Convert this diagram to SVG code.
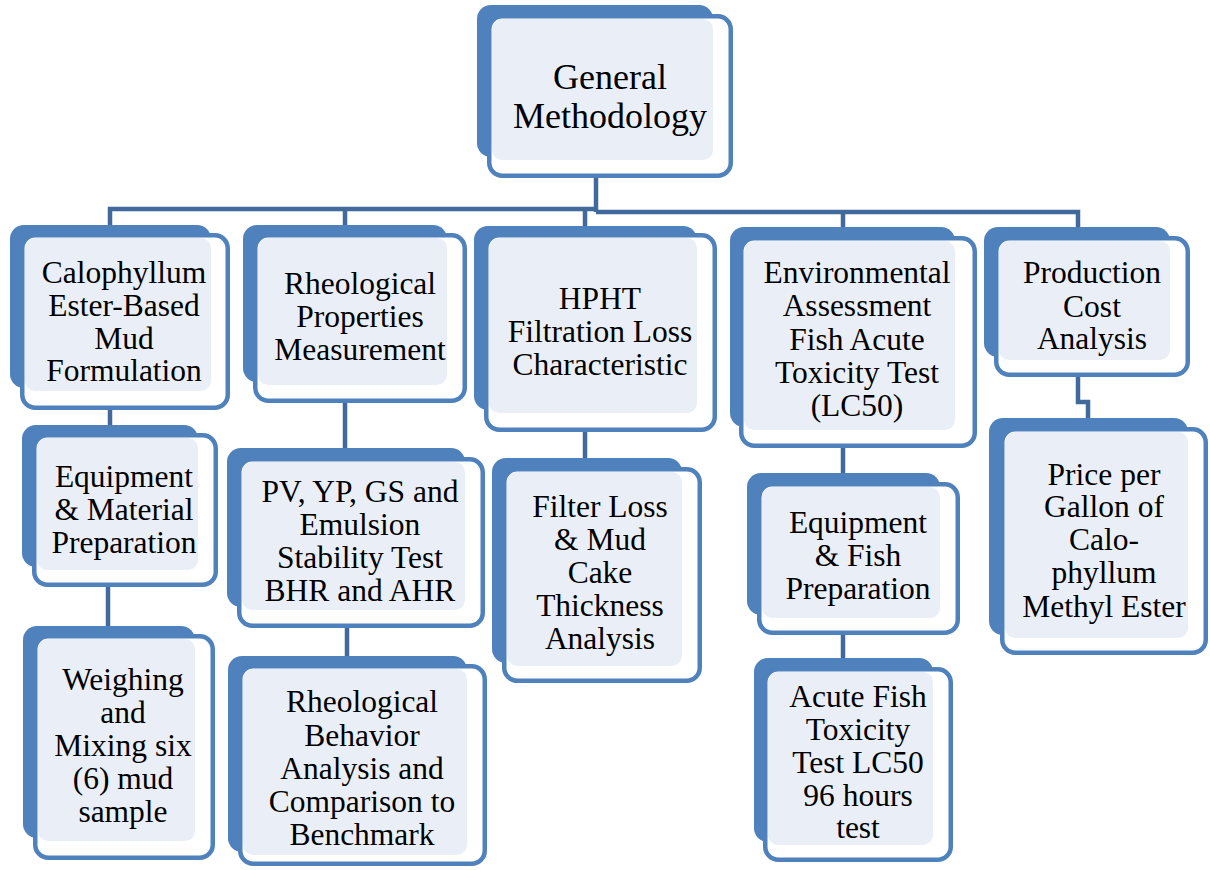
<svg xmlns="http://www.w3.org/2000/svg" width="1210" height="870" viewBox="0 0 1210 870">
<style>
.bk{fill:#4F81BD}
.fr{fill:#FFFFFF;stroke:#4F81BD;stroke-width:4.5}
.lt{fill:#EAEFF7}
.cn{fill:none;stroke:#41699C;stroke-width:4.5}
.tx{font-family:'Liberation Serif','Times New Roman','DejaVu Serif',serif;font-size:31.5px;text-anchor:middle;fill:#000}
.big{font-size:36px}
</style>
<rect width="1210" height="870" fill="#FFFFFF"/>
<g id="connectors">
<path class="cn" d="M596,176 V212"/>
<path class="cn" d="M110,226 V209 H596"/>
<path class="cn" d="M596,212 H1078 V228"/>
<path class="cn" d="M345,209 V226"/>
<path class="cn" d="M585,209 V227"/>
<path class="cn" d="M843,212 V228"/>
<path class="cn" d="M110,408 V426"/>
<path class="cn" d="M108,585 V627"/>
<path class="cn" d="M345,401 V449"/>
<path class="cn" d="M347,626 V657"/>
<path class="cn" d="M585,430 V459"/>
<path class="cn" d="M843,446 V474"/>
<path class="cn" d="M843,633 V659"/>
<path class="cn" d="M1078,375 V402 H1088 V419"/>
</g>
<g id="n0">
<rect class="bk" x="477" y="5" width="236" height="152" rx="14"/>
<rect class="fr" x="489.25" y="16.25" width="241.5" height="159.5" rx="13"/>
<rect class="lt" x="492" y="19" width="221" height="141" rx="10"/>
<g class="tx big" font-family="Liberation Serif, serif">
<text x="610" y="89">General</text>
<text x="610" y="128">Methodology</text>
</g>
</g>
<g id="n1">
<rect class="bk" x="10" y="225" width="201" height="163" rx="14"/>
<rect class="fr" x="22.25" y="235.25" width="205.5" height="172.5" rx="13"/>
<rect class="lt" x="25" y="238" width="186" height="153" rx="10"/>
<g class="tx" font-family="Liberation Serif, serif">
<text x="124" y="283">Calophyllum</text>
<text x="124" y="316">Ester-Based</text>
<text x="124" y="349">Mud</text>
<text x="124" y="381">Formulation</text>
</g>
</g>
<g id="n1a">
<rect class="bk" x="22" y="425" width="176" height="142" rx="14"/>
<rect class="fr" x="34.25" y="435.25" width="181.5" height="149.5" rx="13"/>
<rect class="lt" x="37" y="438" width="161" height="132" rx="10"/>
<g class="tx" font-family="Liberation Serif, serif">
<text x="124" y="487">Equipment</text>
<text x="124" y="520">&amp; Material</text>
<text x="124" y="553">Preparation</text>
</g>
</g>
<g id="n1b">
<rect class="bk" x="23" y="626" width="172" height="212" rx="14"/>
<rect class="fr" x="35.25" y="636.25" width="177.5" height="221.5" rx="13"/>
<rect class="lt" x="38" y="639" width="157" height="202" rx="10"/>
<g class="tx" font-family="Liberation Serif, serif">
<text x="123" y="690">Weighing</text>
<text x="123" y="723">and</text>
<text x="123" y="756">Mixing six</text>
<text x="123" y="789">(6) mud</text>
<text x="123" y="822">sample</text>
</g>
</g>
<g id="n2">
<rect class="bk" x="243" y="225" width="204" height="157" rx="14"/>
<rect class="fr" x="255.25" y="235.25" width="209.5" height="165.5" rx="13"/>
<rect class="lt" x="258" y="238" width="189" height="147" rx="10"/>
<g class="tx" font-family="Liberation Serif, serif">
<text x="360" y="294">Rheological</text>
<text x="360" y="327">Properties</text>
<text x="360" y="360">Measurement</text>
</g>
</g>
<g id="n2a">
<rect class="bk" x="227" y="448" width="238" height="159" rx="14"/>
<rect class="fr" x="239.25" y="459.25" width="243.5" height="166.5" rx="13"/>
<rect class="lt" x="242" y="462" width="223" height="148" rx="10"/>
<g class="tx" font-family="Liberation Serif, serif">
<text x="360" y="502">PV, YP, GS and</text>
<text x="360" y="535">Emulsion</text>
<text x="360" y="568">Stability Test</text>
<text x="360" y="601">BHR and AHR</text>
</g>
</g>
<g id="n2b">
<rect class="bk" x="228" y="656" width="239" height="196" rx="14"/>
<rect class="fr" x="240.25" y="666.25" width="244.5" height="197.5" rx="13"/>
<rect class="lt" x="243" y="669" width="224" height="186" rx="10"/>
<g class="tx" font-family="Liberation Serif, serif">
<text x="362" y="712">Rheological</text>
<text x="362" y="746">Behavior</text>
<text x="362" y="779">Analysis and</text>
<text x="362" y="812">Comparison to</text>
<text x="362" y="845">Benchmark</text>
</g>
</g>
<g id="n3">
<rect class="bk" x="474" y="226" width="223" height="184" rx="14"/>
<rect class="fr" x="486.25" y="235.25" width="228.5" height="194.5" rx="13"/>
<rect class="lt" x="489" y="238" width="208" height="175" rx="10"/>
<g class="tx" font-family="Liberation Serif, serif">
<text x="600" y="309">HPHT</text>
<text x="600" y="342">Filtration Loss</text>
<text x="600" y="375">Characteristic</text>
</g>
</g>
<g id="n3a">
<rect class="bk" x="492" y="458" width="190" height="205" rx="14"/>
<rect class="fr" x="504.25" y="469.25" width="195.5" height="211.5" rx="13"/>
<rect class="lt" x="507" y="472" width="175" height="194" rx="10"/>
<g class="tx" font-family="Liberation Serif, serif">
<text x="600" y="517">Filter Loss</text>
<text x="600" y="550">&amp; Mud</text>
<text x="600" y="583">Cake</text>
<text x="600" y="616">Thickness</text>
<text x="600" y="649">Analysis</text>
</g>
</g>
<g id="n4">
<rect class="bk" x="730" y="227" width="225" height="200" rx="14"/>
<rect class="fr" x="741.25" y="238.25" width="233.5" height="207.5" rx="13"/>
<rect class="lt" x="744" y="241" width="211" height="189" rx="10"/>
<g class="tx" font-family="Liberation Serif, serif">
<text x="857" y="283">Environmental</text>
<text x="857" y="316">Assessment</text>
<text x="857" y="350">Fish Acute</text>
<text x="857" y="383">Toxicity Test</text>
<text x="857" y="416">(LC50)</text>
</g>
</g>
<g id="n4a">
<rect class="bk" x="747" y="473" width="193" height="142" rx="14"/>
<rect class="fr" x="759.25" y="484.25" width="198.5" height="148.5" rx="13"/>
<rect class="lt" x="762" y="487" width="178" height="131" rx="10"/>
<g class="tx" font-family="Liberation Serif, serif">
<text x="858" y="533">Equipment</text>
<text x="858" y="566">&amp; Fish</text>
<text x="858" y="599">Preparation</text>
</g>
</g>
<g id="n4b">
<rect class="bk" x="754" y="658" width="179" height="184" rx="14"/>
<rect class="fr" x="765.25" y="669.25" width="185.5" height="190.5" rx="13"/>
<rect class="lt" x="768" y="672" width="165" height="173" rx="10"/>
<g class="tx" font-family="Liberation Serif, serif">
<text x="858" y="707">Acute Fish</text>
<text x="858" y="740">Toxicity</text>
<text x="858" y="773">Test LC50</text>
<text x="858" y="806">96 hours</text>
<text x="858" y="838">test</text>
</g>
</g>
<g id="n5">
<rect class="bk" x="984" y="227" width="186" height="130" rx="14"/>
<rect class="fr" x="996.25" y="238.25" width="191.5" height="136.5" rx="13"/>
<rect class="lt" x="999" y="241" width="171" height="119" rx="10"/>
<g class="tx" font-family="Liberation Serif, serif">
<text x="1092" y="283">Production</text>
<text x="1092" y="317">Cost</text>
<text x="1092" y="349">Analysis</text>
</g>
</g>
<g id="n5a">
<rect class="bk" x="989" y="418" width="199" height="217" rx="14"/>
<rect class="fr" x="1002.25" y="429.25" width="203.5" height="223.5" rx="13"/>
<rect class="lt" x="1005" y="432" width="183" height="206" rx="10"/>
<g class="tx" font-family="Liberation Serif, serif">
<text x="1104" y="485">Price per</text>
<text x="1104" y="517">Gallon of</text>
<text x="1104" y="550">Calo-</text>
<text x="1104" y="583">phyllum</text>
<text x="1104" y="617">Methyl Ester</text>
</g>
</g>
</svg>
